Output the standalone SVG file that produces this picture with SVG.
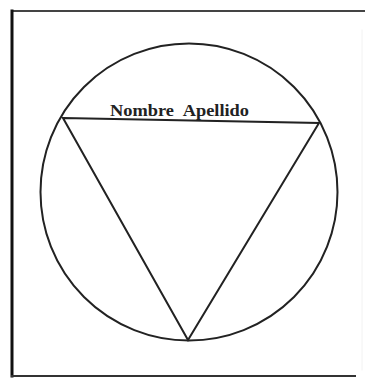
<svg xmlns="http://www.w3.org/2000/svg" width="365" height="379" viewBox="0 0 365 379">
<style>
.frame{fill:none;stroke-linecap:square}
.shape{fill:none;stroke:#222;stroke-width:2}
.label{font-family:"Liberation Serif",serif;font-weight:bold;font-size:17.5px;fill:#222;word-spacing:5px}
</style>
<rect width="365" height="379" fill="#fff"/>
<g id="frame">
<line class="frame" x1="12" y1="11" x2="365" y2="11" stroke="#444" stroke-width="2"/>
<line class="frame" x1="12" y1="11" x2="12" y2="376" stroke="#111" stroke-width="3"/>
<line class="frame" x1="12" y1="376" x2="355" y2="376" stroke="#333" stroke-width="2"/>
<line class="frame" x1="362" y1="30" x2="362" y2="370" stroke="#f2f2f2" stroke-width="1"/>
</g>
<g id="circle">
<circle class="shape" cx="189" cy="192" r="148.5"/>
</g>
<g id="connectors">
<polygon class="shape" points="63,118 319,123 188,340" stroke-linejoin="miter"/>
</g>
<g id="label">
<text class="label" x="110" y="116" textLength="139" lengthAdjust="spacingAndGlyphs">Nombre Apellido</text>
</g>
</svg>
